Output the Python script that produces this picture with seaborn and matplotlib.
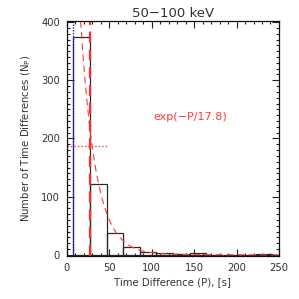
import numpy as np
import matplotlib
matplotlib.use("Agg")
import matplotlib.pyplot as plt
import seaborn as sns
from matplotlib.ticker import MultipleLocator

# histogram of waiting times, 50-100 keV
bin_edges = [7.5, 27.1, 46.7, 66.3, 85.9, 105.5, 125.1, 144.7, 164.3,
             183.9, 203.5, 223.1, 242.7, 262.3]
counts = [375, 122, 38, 14, 5, 3, 1, 3, 0, 0, 0, 1, 0]

tau = 17.8
fit_amp = 991.0
fit_label = "exp(\u2212P/17.8)"
title = "50\u2212100 keV"

p_min = 7.5
p_peak = 27.1
half_max = 187.5

centers = [(a + b) / 2 for a, b in zip(bin_edges[:-1], bin_edges[1:])]

sns.set_style("ticks")
plt.rcParams["font.family"] = ["DejaVu Sans"]

fig = plt.figure(figsize=(2.99, 2.99), dpi=100)
ax = fig.add_axes([0.224, 0.144, 0.709, 0.786])

sns.histplot(x=centers, weights=counts, bins=bin_edges, fill=False,
             element="bars", color="#2a2a2a", linewidth=0.9, ax=ax)

pp = np.linspace(10, 250, 400)
ax.plot(pp, fit_amp * np.exp(-pp / tau), color="#ff3a3a", lw=0.8,
        dashes=(6, 4))
ax.axvline(p_min, color="#2020ff", lw=1.0, ls=(0, (1, 1)))
ax.axvline(p_peak, color="#ff2a2a", lw=1.6, dashes=(5, 3))
ax.plot([0, 48], [half_max, half_max], color="#ff3a3a", lw=1.0,
        ls=(0, (1, 1.5)))

ax.text(145, 236, fit_label, color="#ff3a3a", fontsize=8,
        ha="center", va="center")

ax.set_xlim(0, 250)
ax.set_ylim(-2, 402)
ax.xaxis.set_major_locator(MultipleLocator(50))
ax.xaxis.set_minor_locator(MultipleLocator(10))
ax.yaxis.set_major_locator(MultipleLocator(100))
ax.yaxis.set_minor_locator(MultipleLocator(10))
ax.tick_params(which="both", direction="in", top=True, right=True,
               width=0.8, colors="#222222", labelsize=7.2, labelcolor="#333333")
ax.tick_params(which="major", length=5, pad=5)
ax.tick_params(which="minor", length=2.5)
for s in ax.spines.values():
    s.set_linewidth(0.9)
    s.set_color("#111111")

ax.set_xlabel("Time Difference (P), [s]", fontsize=7.3, color="#333333",
              labelpad=3)
ax.set_ylabel("Number of Time Differences (N$_\\mathrm{P}$)", fontsize=7.3,
              color="#333333", labelpad=6)
ax.set_title(title, fontsize=9.5, color="#333333", pad=3)

fig.savefig("out.png", dpi=100)
